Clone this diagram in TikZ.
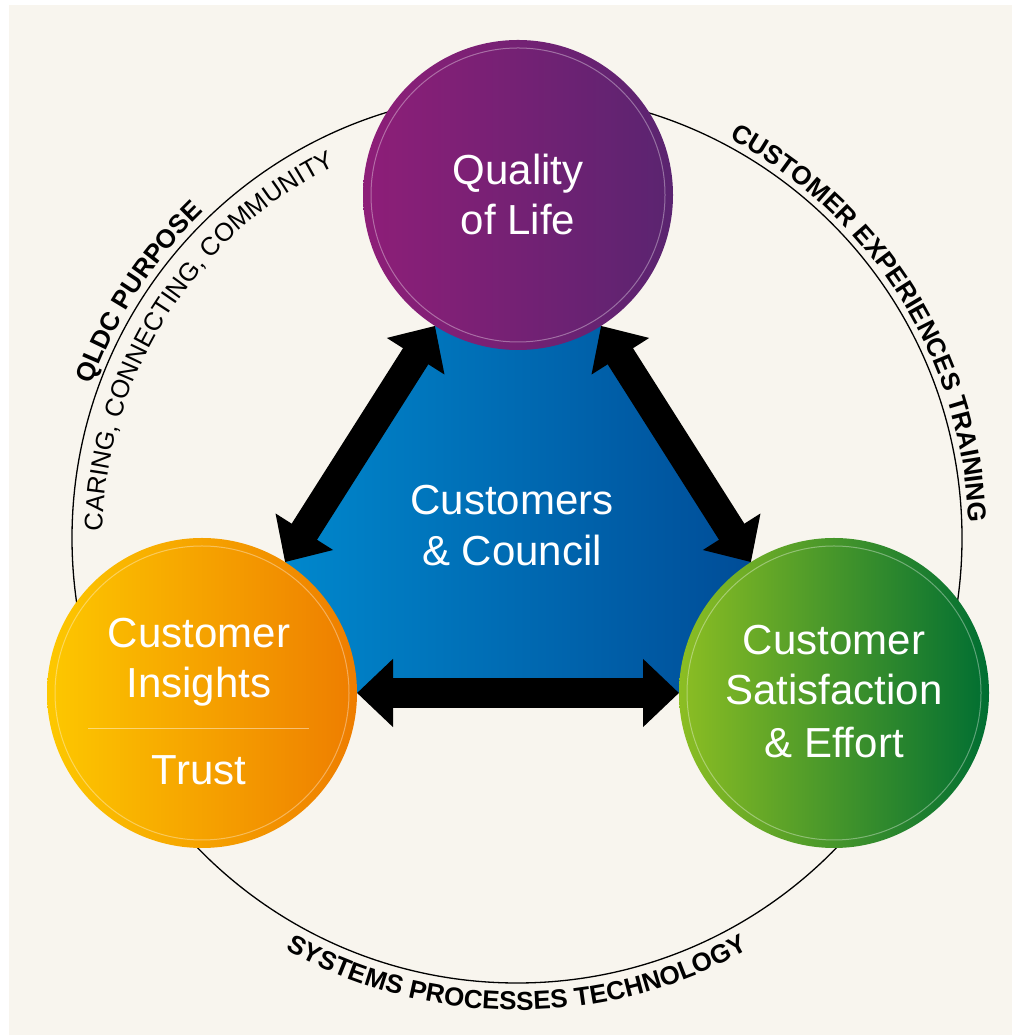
\documentclass[tikz,border=0pt]{standalone}
\usepackage{fontspec}
\setmainfont{Liberation Sans}
\usetikzlibrary{arrows.meta,decorations.text}
\definecolor{cream}{HTML}{F8F5EE}
\definecolor{purpL}{HTML}{8E1E78}
\definecolor{purpR}{HTML}{5A2470}
\definecolor{orL}{HTML}{FDC800}
\definecolor{orR}{HTML}{EE7D00}
\definecolor{grL}{HTML}{8CBE23}
\definecolor{grR}{HTML}{006E32}
\definecolor{blueL}{HTML}{0092D6}
\definecolor{blueR}{HTML}{00428E}
\pgfdeclarelayer{back}
\pgfdeclarelayer{mid}
\pgfsetlayers{back,mid,main}
\newcommand\circtext{\fontsize{42}{50}\selectfont}
\newcommand\arcbold{\fontsize{26}{30}\selectfont\bfseries}
\newcommand\arcreg{\fontsize{25.5}{30}\selectfont}
\begin{document}
\begin{tikzpicture}[x=1pt,y=1pt,
  bubble/.style={circle, minimum size=310pt, inner sep=0pt, outer sep=0pt},
  ring/.style={draw=white, draw opacity=0.35, line width=1pt},
  ctext/.style={text=white, font=\circtext, anchor=base, inner sep=0pt},
  dbl/.style={line width=30pt, {Triangle[length=36pt,width=66pt]}-{Triangle[length=36pt,width=66pt]}},
  arctext/.style={decorate, decoration={text along path, text align=center, text={#1}}}
]
\useasboundingbox (0,0) rectangle (1012,1035);
\begin{pgfonlayer}{back}
  \fill[cream] (9,0) rectangle (1012,1030);
  \draw[line width=1.3pt] (517,497) circle[radius=445pt];
\end{pgfonlayer}

% circles
\node[bubble, left color=purpL, right color=purpR] (qol) at (518,840) {};
\node[bubble, left color=orL, right color=orR] (ins) at (202,342) {};
\node[bubble, left color=grL, right color=grR] (sat) at (834,342) {};
\draw[ring] (qol.center) circle[radius=147pt];
\draw[ring] (ins.center) circle[radius=147pt];
\draw[ring] (sat.center) circle[radius=147pt];

% central triangle and arrows
\begin{pgfonlayer}{mid}
  \shade[left color=blueL, right color=blueR] (qol.center) -- (ins.center) -- (sat.center) -- cycle;
  \draw[dbl] (qol) -- (ins);
  \draw[dbl] (qol) -- (sat);
  \draw[dbl] (ins) -- (sat);
\end{pgfonlayer}

% texts in circles
\node[ctext] (q1) at (518,850) {Quality};
\node[ctext] (q2) at (518,800) {of Life};
\node[ctext] (c1) at (512,520) {Customers};
\node[ctext] (c2) at (512,469) {\& Council};
\node[ctext] (i1) at (199,387) {Customer};
\node[ctext] (i2) at (199,337) {Insights};
\node[ctext] (i3) at (199,250) {Trust};
\draw[white, draw opacity=0.45, line width=1pt] (88,306) -- (309,306);
\node[ctext] (s1) at (834,380) {Customer};
\node[ctext] (s2) at (834,330) {Satisfaction};
\node[ctext] (s3) at (834,277) {\& Effort};

% texts along the big circle
\path[arctext={|\arcbold|CUSTOMER EXPERIENCES TRAINING}]
  (517,497) ++(77:452pt) arc[start angle=77, end angle=-13, radius=452pt];
\path[arctext={|\arcbold|QLDC PURPOSE}]
  (517,497) ++(192:452pt) arc[start angle=192, end angle=102, radius=452pt];
\path[arctext={|\arcreg|CARING, CONNECTING, COMMUNITY}]
  (517,497) ++(192.5:414pt) arc[start angle=192.5, end angle=102.5, radius=414pt];
\path[arctext={|\arcbold|SYSTEMS PROCESSES TECHNOLOGY}]
  (517,497) ++(225:472pt) arc[start angle=225, end angle=315, radius=472pt];
\end{tikzpicture}
\end{document}
